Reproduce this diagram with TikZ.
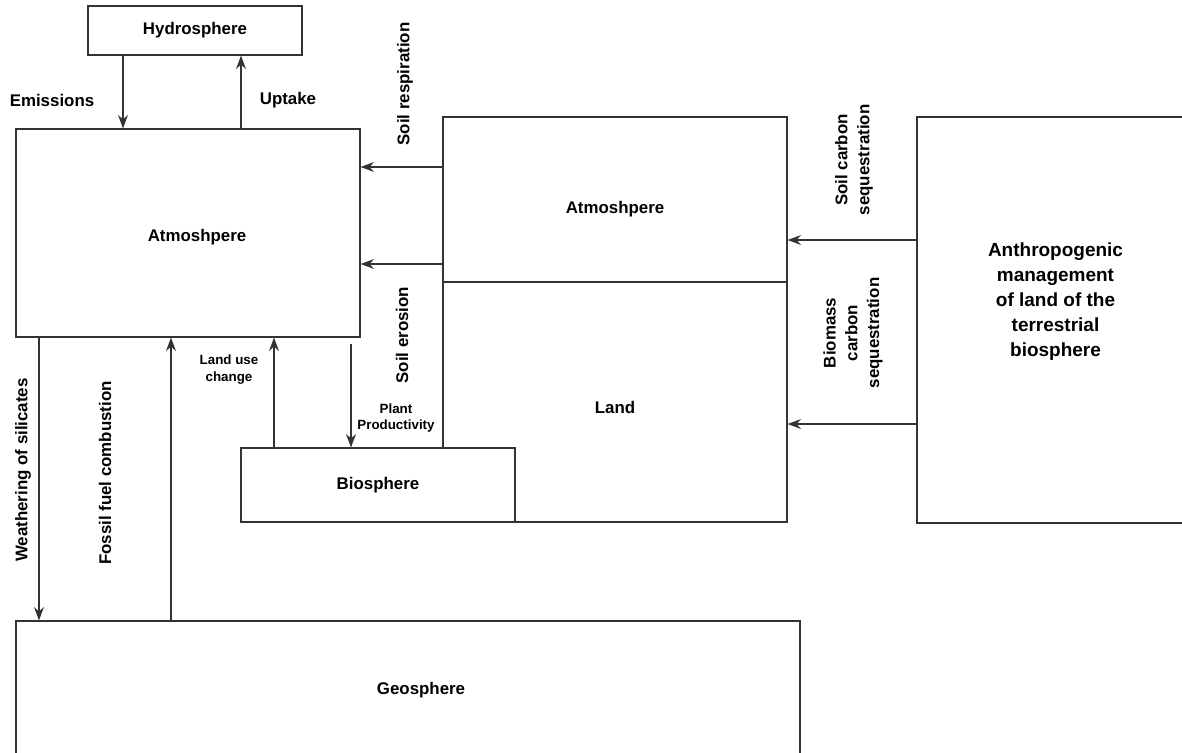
\documentclass[tikz,border=0pt]{standalone}
\usepackage{fontspec}
\setmainfont{Liberation Sans}
\definecolor{CCline}{HTML}{333333}
\usetikzlibrary{arrows.meta, fit, positioning}

\begin{document}
\begin{tikzpicture}[x=0.025cm, y=-0.025cm,
      box/.style={draw=CCline, line width=0.8pt, inner sep=0pt, fill=white},
      flow/.style={-{Stealth[length=9.5pt, width=7pt]}, CCline, line width=0.8pt},
      lab/.style={font=\bfseries\fontsize{12}{15.5}\selectfont, align=center, inner sep=0pt},
      smalllab/.style={font=\bfseries\fontsize{9.5}{12}\selectfont, align=center, inner sep=0pt}]
   \clip (0,0) rectangle (1182,752);
   \fill[white] (0,0) rectangle (1182,752);
   % Boxes
   \node[box, fit={(88,6) (302,55)},
      label={[lab]center:Hydrosphere}] (hydro) {};
   \node[box, fit={(16,129) (360,337)},
      label={[lab, xshift=0.225cm, yshift=-0.1cm]center:Atmoshpere}] (atmL) {};
   \node[box, fit={(443,117) (787,282)},
      label={[lab, yshift=-0.25cm]center:Atmoshpere}] (atmR) {};
   \node[box, fit={(443,282) (787,522)},
      label={[lab, yshift=-0.125cm]center:Land}] (land) {};
   \node[box, fit={(241,448) (515,522)},
      label={[lab]center:Biosphere}] (bio) {};
   \node[box, fit={(917,117) (1194,523)},
      label={[lab, font=\bfseries\fontsize{13.5}{17.8}\selectfont, yshift=0.45cm]center:Anthropogenic\\management\\of land of the\\terrestrial\\biosphere}] (anth) {};
   \node[box, fit={(16,621) (800,759)},
      label={[lab, xshift=0.325cm]center:Geosphere}] (geo) {};
   % Arrow positions
   \coordinate (xemi) at (123,0);
   \coordinate (xupt) at (241,0);
   \coordinate (ysr) at (0,167);
   \coordinate (yse) at (0,264);
   \coordinate (yscs) at (0,240);
   \coordinate (ybcs) at (0,424);
   \coordinate (xws) at (39,0);
   \coordinate (xffc) at (171,0);
   \coordinate (xluc) at (274,0);
   \coordinate (xpp) at (351,0);
   % Flows
   \draw[flow] (hydro.south -| xemi) -- (atmL.north -| xemi);
   \draw[flow] (atmL.north -| xupt) -- (hydro.south -| xupt);
   \draw[flow] (atmR.west |- ysr) -- (atmL.east |- ysr);
   \draw[flow] (atmR.west |- yse) -- (atmL.east |- yse);
   \draw[flow] (anth.west |- yscs) -- (atmR.east |- yscs);
   \draw[flow] (anth.west |- ybcs) -- (land.east |- ybcs);
   \draw[flow] (atmL.south -| xws) -- (geo.north -| xws);
   \draw[flow] (geo.north -| xffc) -- (atmL.south -| xffc);
   \draw[flow] (bio.north -| xluc) -- (atmL.south -| xluc);
   \draw[flow, shorten <=0.15cm] (atmL.south -| xpp) -- (bio.north -| xpp);
   % Flow labels
   \node[lab] (emilab) at (52,100) {Emissions};
   \node[lab] (uptlab) at (288,100) {Uptake};
   \node[lab, rotate=90] (srlab) at (405,84) {Soil respiration};
   \node[lab, rotate=90] (selab) at (402,335) {Soil erosion};
   \node[lab, rotate=90] (scslab) at (854,160) {Soil carbon\\sequestration};
   \node[lab, rotate=90] (bcslab) at (853,333) {Biomass\\carbon\\sequestration};
   \node[lab, rotate=90] (wslab) at (23,470) {Weathering of silicates};
   \node[lab, rotate=90] (ffclab) at (105,473) {Fossil fuel combustion};
   \node[smalllab] (luclab) at (229,370) {Land use\\change};
   \node[smalllab] (pplab) at (396,418) {Plant\\Productivity};
\end{tikzpicture}
\end{document}
